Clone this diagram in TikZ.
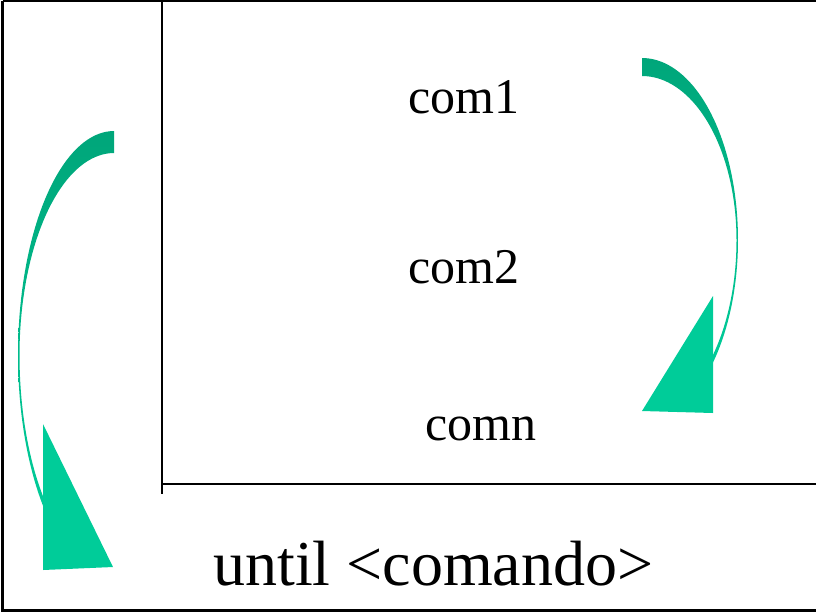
\documentclass[tikz,border=0pt]{standalone}
\usepackage{fontspec}
\setmainfont{Liberation Serif}
\definecolor{arrowdark}{RGB}{0,166,122}
\definecolor{arrowlight}{RGB}{0,204,153}
\begin{document}
\begin{tikzpicture}[x=0.75pt,y=-0.75pt,
  frameline/.style={line width=1.8pt,black},
  ruleline/.style={line width=2.2pt,black},
  band/.style={top color=arrowdark,bottom color=arrowlight},
  head/.style={fill=arrowlight},
  comlabel/.style={anchor=base west,inner sep=0pt,font=\fontsize{37.5}{40}\selectfont},
  untillabel/.style={anchor=base west,inner sep=0pt,font=\fontsize{48}{52}\selectfont}]
\useasboundingbox (0,0) rectangle (816,612);
\clip (0,0) rectangle (816,612);

% outer frame (right side runs off the page)
\draw[frameline] (2.5,0.8) -- (830,0.8);
\draw[frameline] (2.5,0.8) -- (2.5,610.5) -- (830,610.5);

% loop body bracket
\draw[ruleline] (162,0) -- (162,494);
\draw[ruleline] (162,484) -- (816,484);

% right curved arrow
\shade[band]
  plot[domain=90:-44.9,samples=60] ({642+96*cos(\x)},{240-182*sin(\x)})
  -- plot[domain=-47.5:0,samples=40] ({642+94.5*cos(\x)},{240-174*sin(\x)})
  -- plot[domain=0:90,samples=40] ({642+94.5*cos(\x)},{240-164*sin(\x)}) -- cycle;
\fill[head] (713,296) -- (642,411) -- (713,413) -- cycle;

% left curved arrow
\shade[band]
  plot[domain=90:225.1,samples=60] ({114+96*cos(\x)},{355-224*sin(\x)})
  -- plot[domain=226.5:180,samples=40] ({114+94.5*cos(\x)},{355-214*sin(\x)})
  -- plot[domain=180:90,samples=40] ({114+94.5*cos(\x)},{355-202*sin(\x)}) -- cycle;
\fill[head] (43,424) -- (43,570) -- (113,567) -- cycle;

% texts
\node[comlabel] (c1) at (408,113) {com1};
\node[comlabel] (c2) at (408,283) {com2};
\node[comlabel] (cn) at (425,440) {comn};
\node[untillabel] (until) at (213,585) {until <comando>};
\end{tikzpicture}
\end{document}
